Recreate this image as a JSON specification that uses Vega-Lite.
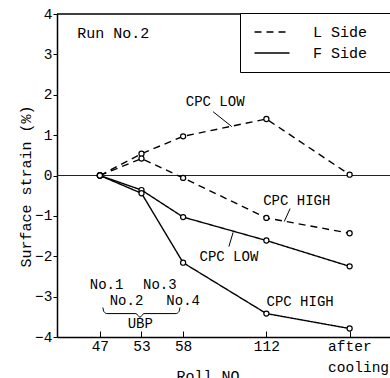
{
  "$schema": "https://vega.github.io/schema/vega-lite/v6.json",
  "width": 333,
  "height": 323,
  "autosize": "none",
  "padding": {"left": 57, "top": 14, "right": 0, "bottom": 41},
  "background": "white",
  "config": {
    "view": {"stroke": null},
    "font": "Liberation Mono",
    "axis": {"labelFont": "Liberation Mono", "titleFont": "Liberation Mono", "labelColor": "black", "titleColor": "black", "domainColor": "black", "tickColor": "black", "grid": false, "titleFontWeight": "normal"},
    "legend": {"labelFont": "Liberation Mono", "labelColor": "black"}
  },
  "datasets": {
    "pts": [
      {"roll": "47", "pos": 0, "strain": 0, "side": "L Side", "series": "L LOW"},
      {"roll": "53", "pos": 1, "strain": 0.54, "side": "L Side", "series": "L LOW"},
      {"roll": "58", "pos": 2, "strain": 0.97, "side": "L Side", "series": "L LOW"},
      {"roll": "112", "pos": 4, "strain": 1.4, "side": "L Side", "series": "L LOW"},
      {"roll": "after cooling", "pos": 6, "strain": 0.02, "side": "L Side", "series": "L LOW"},
      {"roll": "47", "pos": 0, "strain": 0, "side": "L Side", "series": "L HIGH"},
      {"roll": "53", "pos": 1, "strain": 0.42, "side": "L Side", "series": "L HIGH"},
      {"roll": "58", "pos": 2, "strain": -0.06, "side": "L Side", "series": "L HIGH"},
      {"roll": "112", "pos": 4, "strain": -1.05, "side": "L Side", "series": "L HIGH"},
      {"roll": "after cooling", "pos": 6, "strain": -1.43, "side": "L Side", "series": "L HIGH"},
      {"roll": "47", "pos": 0, "strain": 0, "side": "F Side", "series": "F LOW"},
      {"roll": "53", "pos": 1, "strain": -0.36, "side": "F Side", "series": "F LOW"},
      {"roll": "58", "pos": 2, "strain": -1.03, "side": "F Side", "series": "F LOW"},
      {"roll": "112", "pos": 4, "strain": -1.61, "side": "F Side", "series": "F LOW"},
      {"roll": "after cooling", "pos": 6, "strain": -2.25, "side": "F Side", "series": "F LOW"},
      {"roll": "47", "pos": 0, "strain": 0, "side": "F Side", "series": "F HIGH"},
      {"roll": "53", "pos": 1, "strain": -0.44, "side": "F Side", "series": "F HIGH"},
      {"roll": "58", "pos": 2, "strain": -2.16, "side": "F Side", "series": "F HIGH"},
      {"roll": "112", "pos": 4, "strain": -3.42, "side": "F Side", "series": "F HIGH"},
      {"roll": "after cooling", "pos": 6, "strain": -3.79, "side": "F Side", "series": "F HIGH"}
    ],
    "notes": [
      {"label": "CPC LOW", "x": 2.77, "y": 1.83},
      {"label": "CPC HIGH", "x": 4.73, "y": -0.64},
      {"label": "CPC LOW", "x": 3.1, "y": -2.03},
      {"label": "CPC HIGH", "x": 4.81, "y": -3.14},
      {"label": "No.1", "x": 0.16, "y": -2.72},
      {"label": "No.3", "x": 1.44, "y": -2.72},
      {"label": "No.2", "x": 0.64, "y": -3.12},
      {"label": "No.4", "x": 2.0, "y": -3.12},
      {"label": "UBP", "x": 0.97, "y": -3.69}
    ],
    "leaders": [
      {"x": 2.72, "y": 1.58, "x2": 3.17, "y2": 1.21},
      {"x": 4.57, "y": -0.82, "x2": 4.43, "y2": -1.14},
      {"x": 3.2, "y": -1.41, "x2": 3.1, "y2": -1.76}
    ],
    "brace": [
      {"x": 0.072, "y": -3.27},
      {"x": 0.096, "y": -3.37},
      {"x": 0.168, "y": -3.42},
      {"x": 0.866, "y": -3.42},
      {"x": 0.962, "y": -3.51},
      {"x": 1.058, "y": -3.42},
      {"x": 1.828, "y": -3.42},
      {"x": 1.9, "y": -3.37},
      {"x": 1.924, "y": -3.27}
    ]
  },
  "layer": [
    {
      "data": {"values": [{"y": 4}]},
      "mark": {"type": "rule", "color": "black", "strokeWidth": 1.5},
      "encoding": {"y": {"field": "y", "type": "quantitative"}}
    },
    {
      "data": {"values": [{"y": 0}]},
      "mark": {"type": "rule", "color": "#222", "strokeWidth": 1},
      "encoding": {"y": {"field": "y", "type": "quantitative"}}
    },
    {
      "data": {"name": "pts"},
      "mark": {"type": "line", "color": "black", "strokeWidth": 1.4},
      "encoding": {
        "x": {
          "field": "pos", "type": "quantitative",
          "scale": {"domain": [-1.03, 6.97], "nice": false, "zero": false},
          "axis": {
            "values": [0, 1, 2, 4, 6],
            "labelExpr": "datum.value == 0 ? '47' : datum.value == 1 ? '53' : datum.value == 2 ? '58' : datum.value == 4 ? '112' : ['after', 'cooling']",
            "labelFontSize": 14.5,
            "labelLineHeight": 21,
            "labelAlign": {"condition": {"test": "datum.value == 6", "value": "left"}, "value": "center"},
            "labelOffset": {"condition": {"test": "datum.value == 6", "value": -22}, "value": 0},
            "labelBaseline": "top",
            "labelPadding": 8,
            "tickSize": -6,
            "tickWidth": 1,
            "domainWidth": 1.5,
            "title": "Roll NO.",
            "titleFontSize": 15,
            "titleX": 155,
            "titleY": 31,
            "titleBaseline": "top",
            "titleAlign": "center"
          }
        },
        "y": {
          "field": "strain", "type": "quantitative",
          "scale": {"domain": [-4, 4], "nice": false, "zero": false},
          "axis": {
            "values": [-4, -3, -2, -1, 0, 1, 2, 3, 4],
            "format": "d",
            "labelFontSize": 14.5,
            "tickSize": 4,
            "labelPadding": 1,
            "domainWidth": 1.5,
            "title": "Surface strain (%)",
            "titleFontSize": 15,
            "titleX": -32,
            "titleY": 172,
            "titleAngle": 270,
            "titleAlign": "center",
            "titleBaseline": "middle"
          }
        },
        "detail": {"field": "series"},
        "strokeDash": {
          "field": "side", "type": "nominal",
          "scale": {"domain": ["L Side", "F Side"], "range": [[7, 5], [1, 0]]},
          "legend": {
            "title": ".",
            "titleOrient": "right",
            "titleColor": "white",
            "titleOpacity": 0,
            "titleFontSize": 15,
            "titlePadding": 30,
            "orient": "none",
            "legendX": 183,
            "legendY": -1,
            "strokeColor": "black",
            "fillColor": "white",
            "padding": 11,
            "symbolType": "M-2.5,0H2.5",
            "symbolSize": 196,
            "symbolOffset": 13,
            "symbolStrokeWidth": 1.5,
            "symbolStrokeColor": "black",
            "labelFontSize": 15,
            "labelOffset": 33,
            "labelLimit": 300,
            "rowPadding": 5
          }
        }
      }
    },
    {
      "data": {"name": "pts"},
      "mark": {"type": "point", "shape": "circle", "filled": false, "fill": "white", "fillOpacity": 1, "stroke": "black", "strokeWidth": 1.2, "size": 26, "opacity": 1},
      "encoding": {
        "x": {"field": "pos", "type": "quantitative"},
        "y": {"field": "strain", "type": "quantitative"}
      }
    },
    {
      "data": {"name": "notes"},
      "mark": {"type": "text", "fontSize": 14, "color": "black", "align": "center", "baseline": "middle", "font": "Liberation Mono"},
      "encoding": {
        "x": {"field": "x", "type": "quantitative"},
        "y": {"field": "y", "type": "quantitative"},
        "text": {"field": "label"}
      }
    },
    {
      "data": {"values": [{"label": "Run No.2", "x": 0.32, "y": 3.54}]},
      "mark": {"type": "text", "fontSize": 15, "color": "black", "align": "center", "baseline": "middle", "font": "Liberation Mono"},
      "encoding": {
        "x": {"field": "x", "type": "quantitative"},
        "y": {"field": "y", "type": "quantitative"},
        "text": {"field": "label"}
      }
    },
    {
      "data": {"name": "leaders"},
      "mark": {"type": "rule", "color": "black", "strokeWidth": 1},
      "encoding": {
        "x": {"field": "x", "type": "quantitative"},
        "y": {"field": "y", "type": "quantitative"},
        "x2": {"field": "x2"},
        "y2": {"field": "y2"}
      }
    },
    {
      "data": {"name": "brace"},
      "mark": {"type": "line", "color": "black", "strokeWidth": 1, "interpolate": "monotone"},
      "encoding": {
        "x": {"field": "x", "type": "quantitative"},
        "y": {"field": "y", "type": "quantitative"}
      }
    }
  ]
}
